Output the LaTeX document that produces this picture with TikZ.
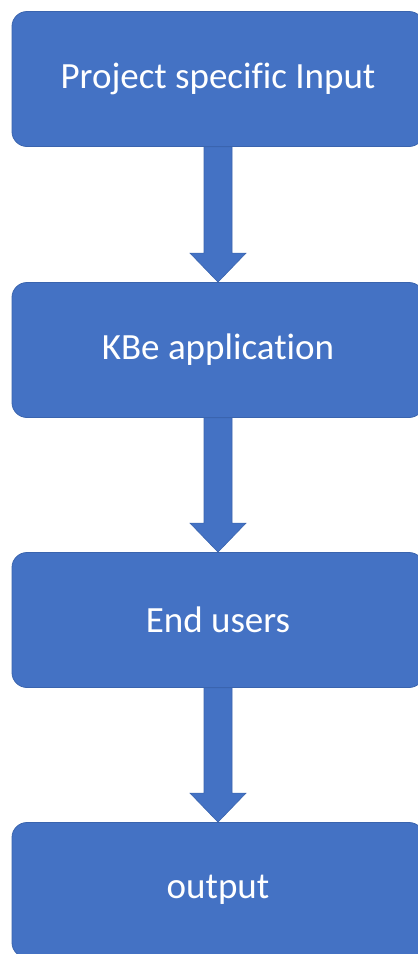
\documentclass[tikz,border=0pt]{standalone}
\usepackage{fontspec}
\setmainfont[Ligatures=NoCommon]{Carlito}
\usetikzlibrary{calc}
\definecolor{boxblue}{HTML}{4472C4}
\definecolor{boxedge}{HTML}{3A64AE}
\tikzset{
  stage/.style={rectangle, rounded corners=15pt, fill=boxblue, draw=boxedge,
    line width=0.8pt, minimum width=412pt, minimum height=135pt, inner sep=0pt,
    text=white, font=\fontsize{37}{40}\selectfont},
  flowarrow/.style={fill=boxblue, draw=boxedge, line width=0.6pt, line join=miter}
}
% block arrow between two named nodes
\newcommand{\blockarrow}[2]{%
  \filldraw[flowarrow] let \p1=(#1.south), \p2=(#2.north) in
    (\x1-14pt,\y1) -- (\x1-14pt,\y2+29pt) -- (\x1-28pt,\y2+29pt) -- (\x2,\y2)
    -- (\x1+28pt,\y2+29pt) -- (\x1+14pt,\y2+29pt) -- (\x1+14pt,\y1) -- cycle;}
\begin{document}
\begin{tikzpicture}[x=1pt,y=-1pt]
  \useasboundingbox (0,0) rectangle (418,954);
  \node[stage] (input)  at (218,79)  {Project specific Input};
  \node[stage] (kbe)    at (218,350) {KBe application};
  \node[stage] (users)  at (218,620) {End users};
  \node[stage] (output) at (218,890) {output};
  \blockarrow{input}{kbe}
  \blockarrow{kbe}{users}
  \blockarrow{users}{output}
\end{tikzpicture}
\end{document}
